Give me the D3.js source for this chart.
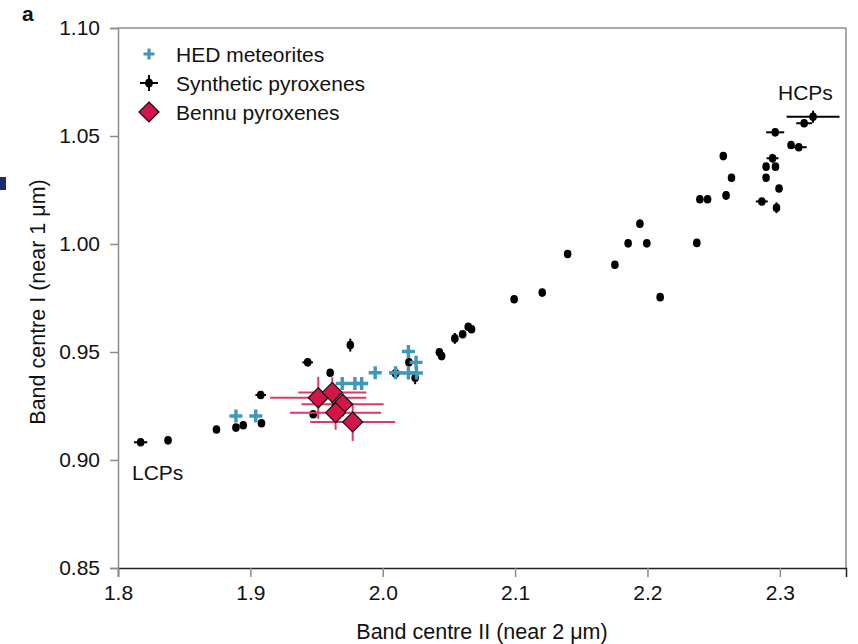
<!DOCTYPE html>
<html><head><meta charset="utf-8">
<script src="https://cdn.jsdelivr.net/npm/d3@7"></script>
<style>
html,body{margin:0;padding:0;background:#fff;}
svg{display:block;font-family:"Liberation Sans",Arial,Helvetica,sans-serif;}
</style></head>
<body>
<svg id="chart" width="858" height="644"></svg>
<script>
// ---- data ----
const xTicks = [1.8, 1.9, 2.0, 2.1, 2.2, 2.3];
const yTicks = [0.85, 0.90, 0.95, 1.00, 1.05, 1.10];
const seriesNames = ["HED meteorites", "Synthetic pyroxenes", "Bennu pyroxenes"];

// Synthetic pyroxenes: band centre II, band centre I, x error, y error
const synX = [1.8171,1.8378,1.8744,1.8891,1.8946,1.9084,1.9078,1.9433,1.9603,1.9755,1.9475,2.0097,2.0198,2.0245,2.0428,2.0445,2.0545,2.0604,2.0646,2.0671,2.0993,2.1205,2.1397,2.1754,2.1854,2.1995,2.2096,2.1943,2.2373,2.2396,2.2454,2.2594,2.2573,2.2635,2.2864,2.2975,2.2994,2.2896,2.2896,2.2967,2.2945,2.2965,2.3085,2.3143,2.3184,2.3251];
const synY = [0.9082,0.9091,0.9141,0.9150,0.9161,0.9170,0.9301,0.9452,0.9404,0.9532,0.9212,0.9401,0.9452,0.9381,0.9499,0.9481,0.9563,0.9582,0.9617,0.9605,0.9744,0.9775,0.9954,0.9904,1.0003,1.0003,0.9754,1.0094,1.0005,1.0207,1.0207,1.0225,1.0407,1.0307,1.0197,1.0168,1.0257,1.0307,1.0358,1.0358,1.0397,1.0517,1.0458,1.0448,1.0559,1.0589];
const synXErr = [0.005,0.002,0,0,0,0,0.004,0.004,0,0,0,0.004,0,0,0,0,0,0,0,0,0,0,0,0,0,0,0,0,0,0,0,0,0,0,0.0045,0,0,0,0,0,0.0045,0.0068,0,0.006,0.006,0.020];
const synYErr = [0,0,0.0015,0,0,0,0.001,0,0.0015,0.003,0,0,0,0.003,0,0,0.0025,0,0,0,0,0,0,0,0,0,0,0.002,0,0,0,0.002,0,0,0.001,0.0025,0,0,0,0,0.002,0,0,0,0,0.0028];

// HED meteorites
const hedX = [1.8891,1.9041,1.9694,1.9790,1.9841,1.9943,2.0097,2.0194,2.0252,2.0194,2.0255];
const hedY = [0.9204,0.9204,0.9354,0.9354,0.9354,0.9404,0.9404,0.9502,0.9452,0.9403,0.9403];

// Bennu pyroxenes
const benX = [1.9513,1.9619,1.9697,1.9644,1.9773];
const benY = [0.9288,0.9313,0.9258,0.9219,0.9176];
const benXErr = [0.0363,0.0257,0.0310,0.0344,0.0321];
const benYErr = [0.0097,0.0070,0.0056,0.0079,0.0088];

// ---- layout ----
const W = 858, H = 644;
const m = {left:118, right:12, top:28, bottom:76};
const svg = d3.select("#chart");
const x = d3.scaleLinear().domain([1.8, 2.35]).range([m.left, W - m.right]);
const y = d3.scaleLinear().domain([0.85, 1.10]).range([H - m.bottom, m.top]);

const FONT = 21;
const TFONT = 21.5;
const GRAY = "#8c8c8c";
const BLUE = "#3f97bb";
const RED = "#d3164a";
const REDBAR = "#dc3a64";

// artifact at left edge
svg.append("rect").attr("x",0).attr("y",177).attr("width",6).attr("height",13).attr("fill","#1b2b6e");

// frame
svg.append("line").attr("x1",x(1.8)).attr("x2",x(2.35)).attr("y1",y(1.10)).attr("y2",y(1.10)).attr("stroke",GRAY).attr("stroke-width",1.5);
svg.append("line").attr("x1",x(2.35)).attr("x2",x(2.35)).attr("y1",y(1.10)).attr("y2",y(0.85)).attr("stroke",GRAY).attr("stroke-width",1.5);

// axes
const xAxis = d3.axisBottom(x).tickValues(xTicks).tickFormat(d3.format(".1f")).tickSize(9).tickPadding(8);
const gx = svg.append("g").attr("transform",`translate(0,${y(0.85)})`).call(xAxis);
gx.select(".domain").attr("stroke","#222").attr("stroke-width",1.5);
gx.selectAll(".tick line").attr("stroke",GRAY).attr("stroke-width",1.5);
gx.selectAll("text").attr("font-size",FONT).attr("fill","#111").attr("font-family",null);

const yAxis = d3.axisLeft(y).tickValues(yTicks).tickFormat(d3.format(".2f")).tickSize(8).tickPadding(10);
const gy = svg.append("g").attr("transform",`translate(${x(1.8)},0)`).call(yAxis);
gy.select(".domain").attr("stroke",GRAY).attr("stroke-width",1.5);
gy.selectAll(".tick line").attr("stroke",GRAY).attr("stroke-width",1.5);
gy.selectAll("text").attr("font-size",FONT).attr("fill","#111").attr("font-family",null);

// axis titles
svg.append("text").attr("x",(x(1.8)+x(2.35))/2).attr("y",639).attr("text-anchor","middle")
  .attr("font-size",TFONT).attr("fill","#111").text("Band centre II (near 2 μm)");
svg.append("text").attr("transform",`translate(45,${(y(0.85)+y(1.10))/2 + 4}) rotate(-90)`).attr("text-anchor","middle")
  .attr("font-size",TFONT).attr("fill","#111").text("Band centre I (near 1 μm)");

// panel label
svg.append("text").attr("x",22).attr("y",21).attr("font-size",21).attr("font-weight","bold").attr("fill","#111").text("a");

// annotations
svg.append("text").attr("x",778).attr("y",100).attr("font-size",FONT).attr("fill","#111").text("HCPs");
svg.append("text").attr("x",132).attr("y",480).attr("font-size",FONT).attr("fill","#111").text("LCPs");

// ---- synthetic pyroxenes ----
const syn = synX.map((v,i)=>({x:v,y:synY[i],xe:synXErr[i],ye:synYErr[i]}));
const gs = svg.append("g");
syn.forEach(d=>{
  if(d.xe>0) gs.append("line").attr("x1",x(d.x-d.xe)).attr("x2",x(d.x+d.xe)).attr("y1",y(d.y)).attr("y2",y(d.y)).attr("stroke","#000").attr("stroke-width",2);
  if(d.ye>0) gs.append("line").attr("x1",x(d.x)).attr("x2",x(d.x)).attr("y1",y(d.y-d.ye)).attr("y2",y(d.y+d.ye)).attr("stroke","#000").attr("stroke-width",2);
});
gs.selectAll("ellipse").data(syn).join("ellipse")
  .attr("cx",d=>x(d.x)).attr("cy",d=>y(d.y)).attr("rx",3.8).attr("ry",4.3).attr("fill","#000");

// ---- HED crosses ----
const hed = hedX.map((v,i)=>({x:v,y:hedY[i]}));
const crossPath = (cx,cy,s)=>`M${cx-s},${cy}H${cx+s}M${cx},${cy-s}V${cy+s}`;
svg.append("g").selectAll("path").data(hed).join("path")
  .attr("d",d=>crossPath(x(d.x),y(d.y),6.5)).attr("stroke",BLUE).attr("stroke-width",3.4).attr("fill","none");

// ---- Bennu ----
const ben = benX.map((v,i)=>({x:v,y:benY[i],xe:benXErr[i],ye:benYErr[i]}));
const gb = svg.append("g");
ben.forEach(d=>{
  gb.append("line").attr("x1",x(d.x-d.xe)).attr("x2",x(d.x+d.xe)).attr("y1",y(d.y)).attr("y2",y(d.y)).attr("stroke",REDBAR).attr("stroke-width",2);
  gb.append("line").attr("x1",x(d.x)).attr("x2",x(d.x)).attr("y1",y(d.y-d.ye)).attr("y2",y(d.y+d.ye)).attr("stroke",REDBAR).attr("stroke-width",2);
});
const diamond = (cx,cy,s)=>`M${cx},${cy-s}L${cx+s},${cy}L${cx},${cy+s}L${cx-s},${cy}Z`;
gb.selectAll("path").data(ben).join("path")
  .attr("d",d=>diamond(x(d.x),y(d.y),10)).attr("fill",RED).attr("stroke","#111").attr("stroke-width",1.2);

// ---- legend ----
const lg = svg.append("g");
const lx = 149, ly = [54, 83, 112];
lg.append("path").attr("d",crossPath(lx,ly[0],5.5)).attr("stroke",BLUE).attr("stroke-width",3.2);
lg.append("line").attr("x1",lx-9).attr("x2",lx+9).attr("y1",ly[1]).attr("y2",ly[1]).attr("stroke","#000").attr("stroke-width",2);
lg.append("line").attr("x1",lx).attr("x2",lx).attr("y1",ly[1]-8).attr("y2",ly[1]+8).attr("stroke","#000").attr("stroke-width",2);
lg.append("ellipse").attr("cx",lx).attr("cy",ly[1]).attr("rx",4).attr("ry",4.5).attr("fill","#000");
lg.append("path").attr("d",diamond(lx,ly[2],10)).attr("fill",RED).attr("stroke","#111").attr("stroke-width",1.2);
seriesNames.forEach((n,i)=>{
  lg.append("text").attr("x",176).attr("y",ly[i]+7.5).attr("font-size",FONT).attr("fill","#111").text(n);
});
</script>
</body></html>
